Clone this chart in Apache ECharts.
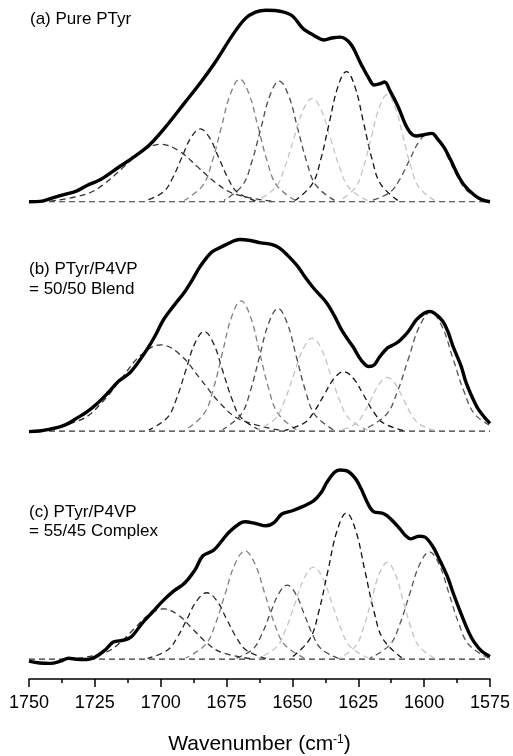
<!DOCTYPE html>
<html>
<head>
<meta charset="utf-8">
<script src="https://cdn.jsdelivr.net/npm/echarts@6/dist/echarts.min.js"></script>
<style>html,body{margin:0;padding:0;background:#fff}#c{width:513px;height:756px}</style>
</head>
<body>
<div id="c"></div>
<script>
// ---- x-axis (wavenumber) ----
const xMin = 1575, xMax = 1750, xStep = 25;
const panelLabels = [['(a) Pure PTyr'], ['(b) PTyr/P4VP', '= 50/50 Blend'], ['(c) PTyr/P4VP', '= 55/45 Complex']];

// ---- (a) Pure PTyr ----
const totalA = [[1750,0],[1745,0.003],[1741,0.02],[1736,0.04],[1732,0.055],[1728,0.085],[1723,0.115],[1716,0.18],[1710,0.235],[1704,0.3],[1697,0.41],[1691,0.515],[1685,0.62],[1679,0.735],[1673,0.865],[1668,0.955],[1664,0.99],[1660,1.0],[1654,0.993],[1650,0.97],[1646,0.905],[1642,0.87],[1638,0.845],[1635,0.855],[1632,0.86],[1628,0.826],[1624,0.72],[1621,0.645],[1619,0.61],[1617,0.615],[1615,0.625],[1613,0.58],[1610,0.5],[1606,0.375],[1603,0.343],[1600,0.35],[1597,0.357],[1595,0.33],[1592.5,0.285],[1590,0.22],[1587.5,0.148],[1585,0.09],[1581,0.035],[1578,0.01],[1575,0.0]];
const a1 = [[1658,0.003],[1672,0.041],[1679,0.098],[1686,0.182],[1693,0.265],[1700,0.30],[1707,0.265],[1714,0.182],[1721,0.098],[1728,0.041],[1742,0.003]];
const a2 = [[1664,0.004],[1671,0.051],[1674.5,0.124],[1678,0.231],[1681.5,0.335],[1685,0.38],[1688.5,0.335],[1692,0.231],[1695.5,0.124],[1699,0.051],[1706,0.004]];
const a3 = [[1649,0.007],[1656,0.086],[1659.5,0.208],[1663,0.388],[1666.5,0.564],[1670,0.64],[1673.5,0.564],[1677,0.388],[1680.5,0.208],[1684,0.086],[1691,0.007]];
const a4 = [[1634,0.007],[1641,0.085],[1644.5,0.205],[1648,0.382],[1651.5,0.556],[1655,0.63],[1658.5,0.556],[1662,0.382],[1665.5,0.205],[1669,0.085],[1676,0.007]];
const a5 = [[1621.5,0.006],[1628.5,0.073],[1632,0.176],[1635.5,0.328],[1639,0.476],[1642.5,0.54],[1646,0.476],[1649.5,0.328],[1653,0.176],[1656.5,0.073],[1663.5,0.006]];
const a6 = [[1610,0.007],[1616.5,0.092],[1619.75,0.221],[1623,0.413],[1626.25,0.6],[1629.5,0.68],[1632.75,0.6],[1636,0.413],[1639.25,0.221],[1642.5,0.092],[1649,0.007]];
const a7 = [[1596,0.006],[1602,0.076],[1605,0.182],[1608,0.34],[1611,0.494],[1614,0.56],[1617,0.494],[1620,0.34],[1623,0.182],[1626,0.076],[1632,0.006]];
const a8 = [[1575.5,0.004],[1583,0.049],[1586.75,0.117],[1590.5,0.219],[1594.25,0.318],[1598,0.36],[1601.75,0.318],[1605.5,0.219],[1609.25,0.117],[1613,0.049],[1620.5,0.004]];

// ---- (b) PTyr/P4VP = 50/50 Blend ----
const totalB = [[1750,-0.003],[1746,0.0],[1742,0.01],[1738,0.023],[1735,0.04],[1732,0.066],[1728,0.1],[1724,0.145],[1720,0.2],[1716,0.26],[1712,0.3],[1709,0.35],[1705,0.43],[1702,0.5],[1699,0.58],[1695,0.655],[1691,0.725],[1688,0.79],[1685,0.86],[1681,0.93],[1678,0.955],[1675,0.975],[1670,1.0],[1666,0.995],[1662,0.983],[1658,0.975],[1655,0.957],[1652,0.92],[1648,0.86],[1645,0.8],[1642,0.747],[1637,0.669],[1634,0.6],[1631,0.52],[1627,0.44],[1624,0.372],[1621,0.337],[1619,0.345],[1617,0.385],[1614,0.433],[1611,0.455],[1609,0.476],[1606,0.52],[1603,0.58],[1600,0.615],[1598,0.625],[1596,0.615],[1593,0.575],[1591,0.52],[1589,0.441],[1586,0.34],[1584,0.25],[1580,0.127],[1577,0.07],[1575,0.04]];
const b1 = [[1655,0.005],[1670,0.061],[1677.5,0.146],[1685,0.273],[1692.5,0.397],[1700,0.45],[1707.5,0.397],[1715,0.273],[1722.5,0.146],[1730,0.061],[1745,0.005]];
const b2 = [[1662.5,0.006],[1669.5,0.07],[1673,0.169],[1676.5,0.316],[1680,0.459],[1683.5,0.52],[1687,0.459],[1690.5,0.316],[1694,0.169],[1697.5,0.07],[1704.5,0.006]];
const b3 = [[1648.5,0.007],[1655.5,0.092],[1659,0.221],[1662.5,0.413],[1666,0.6],[1669.5,0.68],[1673,0.6],[1676.5,0.413],[1680,0.221],[1683.5,0.092],[1690.5,0.007]];
const b4 = [[1634.5,0.007],[1641.5,0.086],[1645,0.208],[1648.5,0.388],[1652,0.564],[1655.5,0.64],[1659,0.564],[1662.5,0.388],[1666,0.208],[1669.5,0.086],[1676.5,0.007]];
const b5 = [[1621.5,0.005],[1628.5,0.065],[1632,0.158],[1635.5,0.294],[1639,0.428],[1642.5,0.485],[1646,0.428],[1649.5,0.294],[1653,0.158],[1656.5,0.065],[1663.5,0.005]];
const b6 = [[1608,0.003],[1615.5,0.042],[1619.25,0.101],[1623,0.188],[1626.75,0.273],[1630.5,0.31],[1634.25,0.273],[1638,0.188],[1641.75,0.101],[1645.5,0.042],[1653,0.003]];
const b7 = [[1596,0.003],[1602,0.038],[1605,0.091],[1608,0.17],[1611,0.247],[1614,0.28],[1617,0.247],[1620,0.17],[1623,0.091],[1626,0.038],[1632,0.003]];
const b8 = [[1572,0.007],[1580.5,0.084],[1584.75,0.202],[1589,0.376],[1593.25,0.547],[1597.5,0.62],[1601.75,0.547],[1606,0.376],[1610.25,0.202],[1614.5,0.084],[1623,0.007]];

// ---- (c) PTyr/P4VP = 55/45 Complex ----
const totalC = [[1750,-0.01],[1746,-0.02],[1742,-0.022],[1738,-0.01],[1735,0.005],[1732,0.0],[1728,-0.002],[1725,0.01],[1721,0.05],[1718,0.09],[1714,0.1],[1711,0.12],[1707,0.19],[1703,0.25],[1699,0.31],[1695,0.36],[1691,0.4],[1687,0.47],[1684,0.545],[1680,0.573],[1677,0.62],[1674,0.67],[1670,0.715],[1668,0.724],[1664,0.715],[1660,0.703],[1657,0.72],[1654,0.765],[1650,0.782],[1646,0.805],[1642,0.834],[1639,0.88],[1637,0.93],[1634,0.985],[1632,0.997],[1629,0.99],[1626,0.95],[1624,0.9],[1621,0.81],[1619,0.776],[1616,0.77],[1614,0.755],[1610,0.7],[1607,0.65],[1605,0.634],[1602,0.648],[1600,0.645],[1597,0.6],[1594,0.52],[1591,0.43],[1589,0.35],[1586,0.24],[1583,0.14],[1581,0.09],[1578,0.04],[1575,0.014]];
const c1 = [[1666,0.003],[1677,0.036],[1682.5,0.086],[1688,0.161],[1693.5,0.234],[1699,0.265],[1704.5,0.234],[1710,0.161],[1715.5,0.086],[1721,0.036],[1732,0.003]];
const c2 = [[1660,0.004],[1667.5,0.047],[1671.25,0.114],[1675,0.212],[1678.75,0.309],[1682.5,0.35],[1686.25,0.309],[1690,0.212],[1693.75,0.114],[1697.5,0.047],[1705,0.004]];
const c3 = [[1645.5,0.006],[1653,0.077],[1656.75,0.185],[1660.5,0.346],[1664.25,0.503],[1668,0.57],[1671.75,0.503],[1675.5,0.346],[1679.25,0.185],[1683,0.077],[1690.5,0.006]];
const c4 = [[1632.5,0.004],[1639,0.053],[1642.25,0.127],[1645.5,0.237],[1648.75,0.344],[1652,0.39],[1655.25,0.344],[1658.5,0.237],[1661.75,0.127],[1665,0.053],[1671.5,0.004]];
const c5 = [[1621,0.005],[1628,0.065],[1631.5,0.158],[1635,0.294],[1638.5,0.428],[1642,0.485],[1645.5,0.428],[1649,0.294],[1652.5,0.158],[1656,0.065],[1663,0.005]];
const c6 = [[1608.5,0.008],[1615.5,0.104],[1619,0.25],[1622.5,0.467],[1626,0.679],[1629.5,0.77],[1633,0.679],[1636.5,0.467],[1640,0.25],[1643.5,0.104],[1650.5,0.008]];
const c7 = [[1596,0.005],[1602,0.069],[1605,0.166],[1608,0.31],[1611,0.45],[1614,0.51],[1617,0.45],[1620,0.31],[1623,0.166],[1626,0.069],[1632,0.005]];
const c8 = [[1575.5,0.006],[1583,0.076],[1586.75,0.184],[1590.5,0.343],[1594.25,0.498],[1598,0.565],[1601.75,0.498],[1605.5,0.343],[1609.25,0.184],[1613,0.076],[1620.5,0.006]];

const baseline = [[1750,0],[1575,0]];

// ---- styling (kept separate from data) ----
const compColors = ['#333333','#222222','#808080','#4a4a4a','#c4c4c4','#111111','#c4c4c4','#555555'];
const FONT = '"Liberation Sans", Arial, sans-serif';
const panels = [
  {total: totalA, comps: [a1,a2,a3,a4,a5,a6,a7,a8], top: 0.7, height: 210.6, ymin: -0.05, ymax: 1.05},
  {total: totalB, comps: [b1,b2,b3,b4,b5,b6,b7,b8], top: 230, height: 210.6, ymin: -0.05, ymax: 1.05},
  {total: totalC, comps: [c1,c2,c3,c4,c5,c6,c7,c8], top: 459.9, height: 221.1, ymin: -0.1044, ymax: 1.05}
];
const labelPos = [[30, [19]], [29, [269, 289]], [29, [512, 531]]];

const grid = [], xAxis = [], yAxis = [], series = [];
panels.forEach((p, i) => {
  grid.push({left: 29, width: 461, top: p.top, height: p.height, containLabel: false});
  const last = i === panels.length - 1;
  xAxis.push({
    type: 'value', gridIndex: i, min: xMin, max: xMax, interval: xStep, inverse: true,
    show: last,
    axisLine: {show: true, onZero: false, lineStyle: {color: '#000', width: 1.5}},
    axisTick: {show: true, inside: false, length: 8, lineStyle: {color: '#000', width: 1.5}},
    minorTick: {show: true, splitNumber: 2, length: 4, lineStyle: {color: '#000', width: 1.5}},
    splitLine: {show: false},
    axisLabel: {show: true, margin: 15, fontSize: 18, color: '#000', fontFamily: FONT, showMinLabel: true, showMaxLabel: true,
      formatter: v => String(v)},
    name: last ? 'Wavenumber (cm{sup|-1})' : '',
    nameLocation: 'middle', nameGap: 55,
    nameTextStyle: {fontSize: 21, color: '#000', fontFamily: FONT,
      rich: {sup: {fontSize: 12, color: '#000', fontFamily: FONT, verticalAlign: 'top', padding: [0, 0, 0, 0]}}}
  });
  yAxis.push({type: 'value', gridIndex: i, min: p.ymin, max: p.ymax, show: false, splitLine: {show: false}});
  series.push({type: 'line', xAxisIndex: i, yAxisIndex: i, data: baseline, symbol: 'none', silent: true,
    lineStyle: {color: '#333', width: 1.2, type: [6, 4]}, z: 1});
  p.comps.forEach((d, k) => {
    series.push({type: 'line', xAxisIndex: i, yAxisIndex: i, data: d, symbol: 'none', smooth: 0.4, silent: true,
      lineStyle: {color: compColors[k], width: 1.3, type: [6, 4]}, z: 2});
  });
  series.push({type: 'line', xAxisIndex: i, yAxisIndex: i, data: p.total, symbol: 'none', smooth: 0.35, silent: true,
    lineStyle: {color: '#000', width: 3.4}, z: 5});
});

const graphic = [];
panelLabels.forEach((lines, i) => {
  lines.forEach((t, j) => {
    graphic.push({type: 'text', x: labelPos[i][0], y: labelPos[i][1][j],
      style: {text: t, fill: '#000', font: '17px ' + FONT, verticalAlign: 'middle', align: 'left'}});
  });
});

const chart = echarts.init(document.getElementById('c'), null, {renderer: 'canvas'});
chart.setOption({animation: false, backgroundColor: '#fff', grid, xAxis, yAxis, series, graphic});
</script>
</body>
</html>
